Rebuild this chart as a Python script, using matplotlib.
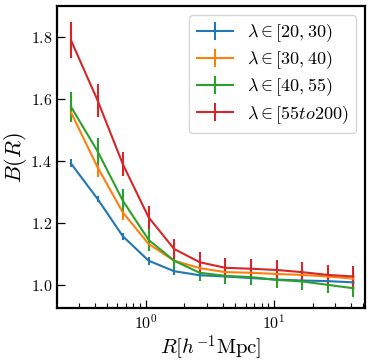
import numpy as np
import matplotlib
matplotlib.use("Agg")
import matplotlib.pyplot as plt

plt.rcParams['font.family'] = 'serif'
plt.rcParams['font.serif'] = ['cmr10']
plt.rcParams['mathtext.fontset'] = 'cm'
plt.rcParams['axes.formatter.use_mathtext'] = True

R = [0.26, 0.42, 0.66, 1.05, 1.66, 2.63, 4.17, 6.61, 10.5, 16.6, 26.3, 41.7]

labels = [r'$\lambda \in [20, 30)$', r'$\lambda \in [30, 40)$',
          r'$\lambda \in [40, 55)$', r'$\lambda \in [55 to 200)$']

b_20_30 = [1.392, 1.277, 1.157, 1.078, 1.044, 1.031, 1.027, 1.022, 1.017, 1.014, 1.012, 1.008]
b_30_40 = [1.557, 1.379, 1.234, 1.132, 1.078, 1.054, 1.041, 1.039, 1.035, 1.032, 1.027, 1.020]
b_40_55 = [1.575, 1.431, 1.272, 1.145, 1.078, 1.039, 1.029, 1.025, 1.016, 1.011, 1.000, 0.989]
b_55_200 = [1.790, 1.595, 1.390, 1.218, 1.116, 1.073, 1.055, 1.052, 1.048, 1.041, 1.032, 1.027]

e_20_30 = [0.013, 0.011, 0.012, 0.013, 0.013, 0.010, 0.010, 0.010, 0.010, 0.010, 0.010, 0.010]
e_30_40 = [0.025, 0.032, 0.025, 0.020, 0.016, 0.015, 0.015, 0.015, 0.015, 0.015, 0.015, 0.015]
e_40_55 = [0.048, 0.043, 0.038, 0.035, 0.027, 0.027, 0.027, 0.027, 0.027, 0.027, 0.027, 0.028]
e_55_200 = [0.058, 0.053, 0.040, 0.038, 0.032, 0.032, 0.032, 0.032, 0.032, 0.032, 0.032, 0.033]

values = [b_20_30, b_30_40, b_40_55, b_55_200]
errors = [e_20_30, e_30_40, e_40_55, e_55_200]

fig = plt.figure(figsize=(3.74, 3.62), dpi=100)
ax = fig.add_axes([0.153, 0.149, 0.823, 0.834])

for i in range(len(values)):
    ax.errorbar(R, values[i], yerr=errors[i], label=labels[i], lw=1.5, elinewidth=1.5)

ax.set_xscale('log')
ax.set_xlim(0.203, 51.4)
ax.set_ylim(0.925, 1.9)
ax.set_yticks([1.0, 1.2, 1.4, 1.6, 1.8])
ax.tick_params(which='both', direction='in', labelsize=11.5)
ax.tick_params(which='major', length=6, width=0.9)
ax.tick_params(which='minor', length=3.5, width=0.8)
for s in ax.spines.values():
    s.set_linewidth(1.6)

ax.set_xlabel(r'$R[h^{-1}{\rm Mpc}]$', fontsize=15, labelpad=1)
ax.set_ylabel(r'$B(R)$', fontsize=16, labelpad=1)
ax.legend(loc='upper right', fontsize=13, labelspacing=0.3, borderaxespad=0.5)

fig.savefig('out.png', dpi=100)
